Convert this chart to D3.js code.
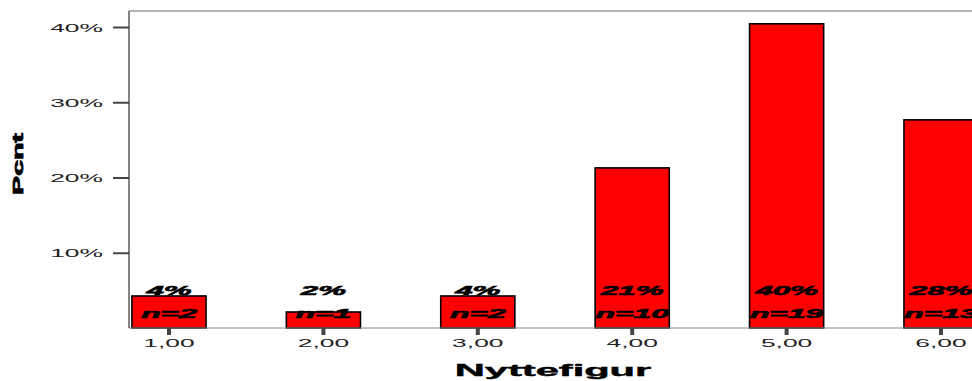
<!DOCTYPE html>
<html>
<head>
<meta charset="utf-8">
<script src="https://cdn.jsdelivr.net/npm/d3@7"></script>
<style>
  html, body { margin: 0; padding: 0; background: #fff; }
  svg { display: block; font-family: "Liberation Sans", Arial, Helvetica, sans-serif; }
</style>
</head>
<body>
<svg id="chart" width="972" height="381"></svg>
<script>
// Nyttefigur categories and counts per category
const categories = ["1,00", "2,00", "3,00", "4,00", "5,00", "6,00"];
const counts = [2, 1, 2, 10, 19, 13];
const yTicks = [0.1, 0.2, 0.3, 0.4];

const total = d3.sum(counts);
const shares = counts.map(c => c / total);

const svg = d3.select("#chart");
const W = 972, H = 381;
const plotLeft = 129, plotTop = 11, plotBottom = 328;

const x = d3.scaleBand()
  .domain(categories)
  .range([plotLeft, 981])
  .paddingInner(0.52)
  .paddingOuter(0.019);

const y = d3.scaleLinear()
  .domain([0, 0.4])
  .range([plotBottom, 27]);

// frame top line
svg.append("line")
  .attr("x1", plotLeft).attr("x2", W)
  .attr("y1", plotTop).attr("y2", plotTop)
  .attr("stroke", "#9a9a9a").attr("stroke-width", 1.5);

// bars
svg.append("g").selectAll("rect")
  .data(categories)
  .join("rect")
  .attr("x", d => x(d))
  .attr("width", x.bandwidth())
  .attr("y", (d, i) => y(shares[i]))
  .attr("height", (d, i) => y(0) - y(shares[i]))
  .attr("fill", "#ff0000")
  .attr("stroke", "#000")
  .attr("stroke-width", 1.6);

// bottom baseline
svg.append("line")
  .attr("x1", plotLeft).attr("x2", W)
  .attr("y1", plotBottom).attr("y2", plotBottom)
  .attr("stroke", "#8a8a8a").attr("stroke-width", 1.2);

// y axis
const yAxis = svg.append("g")
  .attr("transform", `translate(${plotLeft},0)`)
  .call(d3.axisLeft(y).tickValues(yTicks).tickFormat(d3.format(".0%")).tickSize(16).tickSizeOuter(0));
yAxis.select(".domain").remove();
yAxis.selectAll(".tick line").attr("stroke", "#444").attr("stroke-width", 2);
yAxis.selectAll(".tick text")
  .attr("x", 0).attr("dy", "0.38em")
  .attr("transform", "translate(-26,0) scale(2.4,1)")
  .attr("text-anchor", "end")
  .attr("font-size", 11)
  .attr("fill", "#222");

svg.append("line")
  .attr("x1", plotLeft).attr("x2", plotLeft)
  .attr("y1", plotTop).attr("y2", plotBottom)
  .attr("stroke", "#333").attr("stroke-width", 1.2);

// x axis
const xAxis = svg.append("g")
  .attr("transform", `translate(0,${plotBottom})`)
  .call(d3.axisBottom(x).tickSize(7).tickSizeOuter(0));
xAxis.select(".domain").remove();
xAxis.selectAll(".tick line").attr("stroke", "#444").attr("stroke-width", 4);
xAxis.selectAll(".tick text")
  .attr("y", 0).attr("dy", 0)
  .attr("transform", "translate(0,19) scale(2.4,1)")
  .attr("font-size", 11)
  .attr("fill", "#222");

// value labels on bars
const labels = svg.append("g")
  .attr("font-weight", "bold")
  .attr("font-style", "italic")
  .attr("font-size", 13)
  .attr("text-anchor", "middle")
  .attr("fill", "#000")
  .attr("stroke", "#000")
  .attr("stroke-width", 0.6);

labels.selectAll("text.pct")
  .data(categories)
  .join("text")
  .attr("class", "pct")
  .attr("transform", d => `translate(${x(d) + x.bandwidth() / 2},295) scale(2.4,1)`)
  .text((d, i) => Math.round(shares[i] * 100) + "%");

labels.selectAll("text.n")
  .data(categories)
  .join("text")
  .attr("class", "n")
  .attr("transform", d => `translate(${x(d) + x.bandwidth() / 2},318) scale(2.45,1)`)
  .text((d, i) => "n=" + counts[i]);

// axis titles
svg.append("text")
  .attr("transform", "translate(553,376) scale(2.6,1)")
  .attr("text-anchor", "middle")
  .attr("font-weight", "bold")
  .attr("font-size", 16)
  .attr("fill", "#000")
  .attr("stroke", "#000")
  .attr("stroke-width", 0.4)
  .text("Nyttefigur");

svg.append("text")
  .attr("transform", "translate(23,164) rotate(-90) scale(1.9,1)")
  .attr("text-anchor", "middle")
  .attr("font-weight", "bold")
  .attr("font-size", 15)
  .attr("fill", "#000")
  .attr("stroke", "#000")
  .attr("stroke-width", 0.8)
  .text("Pcnt");
</script>
</body>
</html>
